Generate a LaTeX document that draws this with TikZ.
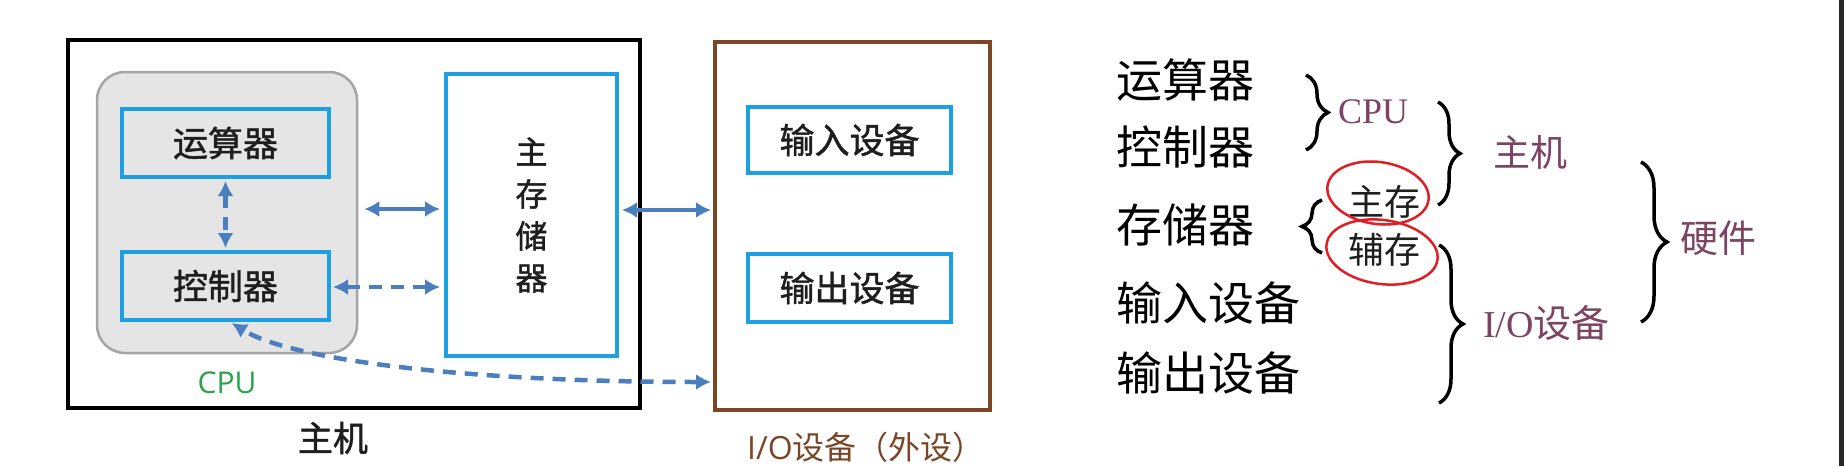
\documentclass[tikz,border=0pt]{standalone}
\usepackage{fontspec}
\newfontfamily\cjk{Noto Sans CJK SC}
\newfontfamily\cjkb[FakeBold=1.3]{Noto Sans CJK SC}
\newfontfamily\osans{Open Sans}
\newfontfamily\tms{Liberation Serif}
\usetikzlibrary{arrows.meta,decorations.pathreplacing,calc}
\definecolor{boxblue}{RGB}{28,160,226}
\definecolor{arrblue}{RGB}{74,126,190}
\definecolor{cpugray}{RGB}{229,229,229}
\definecolor{cpuedge}{RGB}{165,165,165}
\definecolor{iobrown}{RGB}{122,70,38}
\definecolor{cpugreen}{RGB}{40,165,75}
\definecolor{plum}{RGB}{125,68,98}
\definecolor{inkred}{RGB}{225,30,35}
\definecolor{txt}{RGB}{30,30,30}
\begin{document}
\begin{tikzpicture}[x=1pt,y=-1pt,
  lbl/.style={inner sep=0pt},
  bluebox/.style={draw=boxblue,line width=4pt,inner sep=0pt,text=txt,font=\cjkb\fontsize{35}{40}\selectfont},
  arr/.style={draw=arrblue,line width=4.5pt,{Latex[length=15pt,width=16pt]}-{Latex[length=15pt,width=16pt]}},
  dsh/.style={dash pattern=on 13pt off 9pt},
  curly/.style={decorate,decoration={brace,amplitude=#1},line width=3.5pt,draw=black},
  rtxt/.style={inner sep=0pt,anchor=west,text=black,font=\cjk\fontsize{46}{50}\selectfont},
  ptxt/.style={inner sep=0pt,anchor=west,text=plum},
  circ/.style={draw=inkred,line width=2.5pt},
]
\useasboundingbox (0,0) rectangle (1844,466);
\fill[white] (0,0) rectangle (1844,466);
\fill[black!85] (1839,0) rectangle (1844,466);

% left diagram
\node[draw=black,line width=4pt,minimum width=572pt,minimum height=368pt,inner sep=0pt] (host) at (354,224) {};
\node[draw=cpuedge,fill=cpugray,line width=2.5pt,rounded corners=28pt,minimum width=260pt,minimum height=281pt,inner sep=0pt] (cpu) at (227,212.5) {};
\node[bluebox,fill=cpugray,minimum width=207pt,minimum height=68pt] (alu) at (225.5,143) {运算器};
\node[bluebox,fill=cpugray,minimum width=207pt,minimum height=68pt] (ctl) at (225.5,286) {控制器};
\node[bluebox,fill=white,minimum width=171pt,minimum height=282pt,align=center,font=\cjkb\fontsize{32}{42}\selectfont] (mem) at (531.5,215) {主\\存\\储\\器};
\node[draw=iobrown,line width=4pt,minimum width=275pt,minimum height=368pt,inner sep=0pt] (io) at (852.5,226) {};
\node[bluebox,fill=white,minimum width=203pt,minimum height=66pt] (inp) at (849.5,140) {输入设备};
\node[bluebox,fill=white,minimum width=203pt,minimum height=68pt] (outp) at (849.5,288) {输出设备};

\node[lbl,text=cpugreen,font=\osans\fontsize{30}{34}\selectfont] (cpulbl) at (227,383) {CPU};
\node[lbl,text=txt,font=\cjkb\fontsize{35}{40}\selectfont] (hostlbl) at (333,438) {主机};
\node[lbl,text=iobrown,font=\cjk\fontsize{32}{36}\selectfont] (iolbl) at (866,447) {{\osans I/O}设备（外设）};

\coordinate (ya) at (0,209);
\coordinate (yb) at (0,287);
\coordinate (yc) at (0,210);
\coordinate (yd) at (0,382);
\draw[arr,shorten <=6pt,shorten >=4pt] (cpu.east |- ya) -- (mem.west |- ya);
\draw[arr,dsh,shorten <=2pt,shorten >=4pt] (ctl.east |- yb) -- (mem.west |- yb);
\draw[arr,dsh,shorten <=2pt,shorten >=2pt] (alu.south) -- (ctl.north);
\draw[arr,shorten <=3pt,shorten >=2pt] (mem.east |- yc) -- (io.west |- yc);
\draw[arr,dsh,shorten <=2pt,shorten >=2pt] (io.west |- yd) .. controls (480,382) and (295,362) .. ([xshift=4.5pt]ctl.south);

% right classification
\node[rtxt] (r1) at (1116,80) {运算器};
\node[rtxt] (r2) at (1116,147) {控制器};
\node[rtxt] (r3) at (1116,225) {存储器};
\node[rtxt] (r4) at (1116,303) {输入设备};
\node[rtxt] (r5) at (1116,373) {输出设备};

\draw[curly=22pt] (1306,75) -- (1306,150);
\node[ptxt,font=\tms\fontsize{36}{40}\selectfont] (lcpu) at (1338,112) {CPU};
\draw[curly=22pt] (1438,102) -- (1438,205);
\node[ptxt,font=\cjk\fontsize{37}{40}\selectfont] (lhost) at (1493,152) {主机};
\draw[curly=20pt] (1322,253) -- (1322,200);
\node[lbl,text=txt,font=\cjk\fontsize{36}{40}\selectfont] (zc) at (1384,202) {主存};
\node[lbl,text=txt,font=\cjk\fontsize{36}{40}\selectfont] (fc) at (1384,250) {辅存};
\draw[circ,rotate around={-8:(1378,193)}] (1378,193) ellipse [x radius=51pt,y radius=31pt];
\draw[circ,rotate around={-8:(1382,252)}] (1382,252) ellipse [x radius=56pt,y radius=32pt];
\draw[curly=24pt] (1439,245) -- (1439,403);
\node[ptxt,font=\cjk\fontsize{38}{42}\selectfont] (lio) at (1483,323) {{\tms I/O}设备};
\draw[curly=26pt] (1641,162) -- (1641,322);
\node[ptxt,font=\cjk\fontsize{38}{42}\selectfont] (lhw) at (1680,238) {硬件};
\end{tikzpicture}
\end{document}
